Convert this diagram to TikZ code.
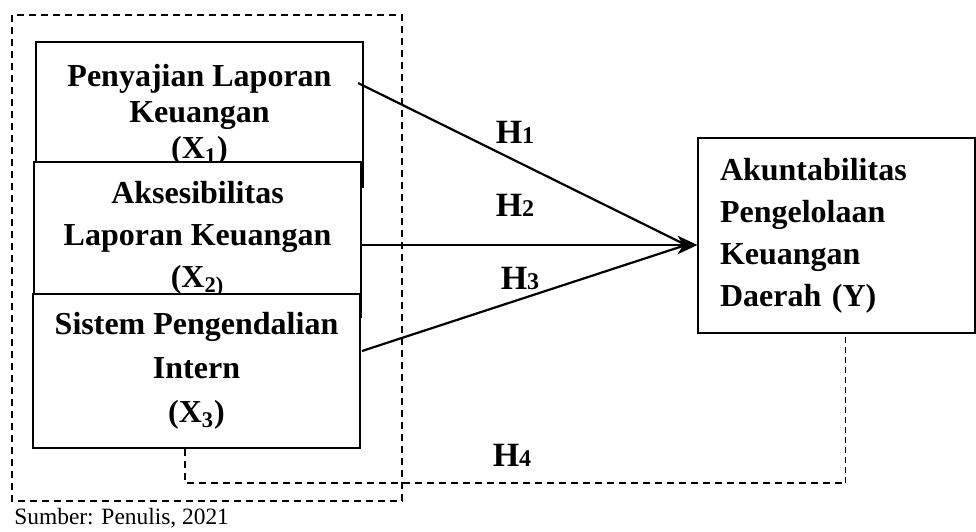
\documentclass[tikz,border=0pt]{standalone}
\usepackage{fontspec}
\setmainfont{Liberation Serif}
\usetikzlibrary{calc,positioning}

\begin{document}
\begin{tikzpicture}[x=0.5pt, y=-0.5pt,
  box/.style={rectangle, draw, fill=white, line width=1pt, minimum width=163.5pt, align=center},
  hyp/.style={font=\fontsize{17}{18}\selectfont\bfseries},
  frame/.style={line width=0.8pt, dash pattern=on 3.5pt off 2.5pt},
  thinframe/.style={line width=0.5pt, dash pattern=on 3pt off 2pt},
  link/.style={line width=1.1pt},
  head/.style={fill=black, draw=black, line width=0.6pt, line join=miter}]
\useasboundingbox (0,0) rectangle (976,531);
% group of independent variables
\draw[frame] (12,15) rectangle (402,501);
\node[box, minimum height=72.5pt, font=\fontsize{16}{18}\selectfont\bfseries] (x1) at (199.5,114.5)
  {Penyajian Laporan\\Keuangan\\(X\textsubscript{1})};
\node[box, minimum height=77.5pt, font=\fontsize{16}{21}\selectfont\bfseries] (x2) at (197.5,239.5)
  {Aksesibilitas\\Laporan Keuangan\\(X\textsubscript{2)}};
\node[box, minimum height=77pt, font=\fontsize{16}{22}\selectfont\bfseries] (x3) at (196.5,371)
  {Sistem Pengendalian\\Intern\\(X\textsubscript{3})};
\node[box, minimum width=138.5pt, minimum height=97.5pt, text width=116.5pt, inner xsep=11pt, align=left,
  font=\fontsize{16}{21}\selectfont\bfseries] (y) at (836.5,235.5)
  {Akuntabilitas\\Pengelolaan\\Keuangan\\Daerah (Y)};
% hypotheses
\coordinate (tip) at ($(y.west)+(-1,9.5)$);
\draw[link] ($(x1.east)+(-6,-31.5)$) -- ($(tip)+(-10,0)$);
\draw[link] (x2.east |- tip) -- ($(tip)+(-10,0)$);
\draw[link] ($(x3.east)+(1,-20)$) -- ($(tip)+(-10,0)$);
\path[head] (tip) -- ($(tip)+(-17,-8)$) -- ($(tip)+(-12,0)$) -- ($(tip)+(-17,8)$) -- cycle;
\coordinate (c1) at (185,483);
\coordinate (c2) at (845,483);
\draw[frame] (x3.south -| c1) -- (c1) -- (c2);
\draw[thinframe] (c2) -- (y.south -| c2);
\node[hyp] (h1) at (515,132) {H{\fontsize{12}{12}\selectfont 1}};
\node[hyp] (h2) at (515,205) {H{\fontsize{12}{12}\selectfont 2}};
\node[hyp] (h3) at (520,278) {H{\fontsize{12}{12}\selectfont 3}};
\node[hyp] (h4) at (512,455) {H{\fontsize{12}{12}\selectfont 4}};
\node[anchor=west, inner sep=0, font=\fontsize{11.7}{14}\selectfont] (src) at (14,518) {Sumber: Penulis, 2021};
\end{tikzpicture}
\end{document}
